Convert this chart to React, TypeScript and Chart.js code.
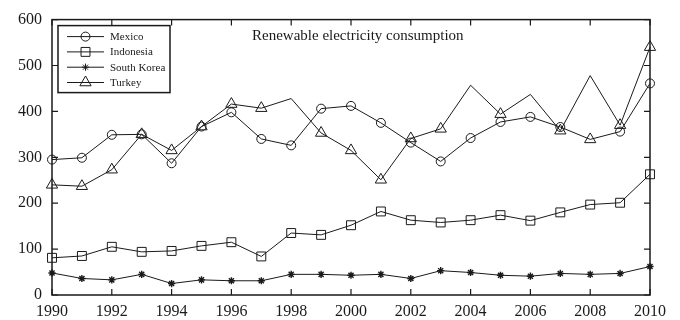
import React, { useEffect, useRef } from "react";
import { Chart, registerables } from "chart.js";

Chart.register(...registerables);

const years = [1990, 1991, 1992, 1993, 1994, 1995, 1996, 1997, 1998, 1999, 2000, 2001, 2002, 2003, 2004, 2005, 2006, 2007, 2008, 2009, 2010];
const mexico = [295, 299, 349, 350, 287, 367, 398, 340, 326, 406, 412, 375, 332, 291, 342, 377, 388, 366, 339, 356, 461];
const indonesia = [81, 85, 105, 94, 96, 107, 115, 84, 135, 131, 152, 182, 163, 158, 163, 174, 162, 180, 197, 201, 263];
const southKorea = [48, 36, 33, 45, 25, 33, 31, 31, 45, 45, 43, 45, 36, 53, 49, 43, 41, 47, 45, 47, 62];
const turkey = [240, 237, 273, 350, 315, 367, 416, 407, 428, 353, 315, 251, 341, 362, 457, 394, 437, 358, 478, 370, 540];
const seriesNames = ["Mexico", "Indonesia", "South Korea", "Turkey"];
const chartTitle = "Renewable electricity consumption";
const yMin = 0;
const yMax = 600;
const yStep = 100;
const xStep = 2;

// years where Turkey is plotted without a marker, and where Mexico's marker is a triangle
const turkeyNoMarkerYears = [1998, 2004, 2006, 2008];
const mexicoTriangleYears = [2008];

const FONT = "'Liberation Serif', 'Times New Roman', serif";
const INK = "#1a1a1a";

type Mk = { style: string; r: number };
const markers: Mk[] = [
  { style: "circle", r: 4.5 },
  { style: "rect", r: 6.3 },
  { style: "star", r: 3.6 },
  { style: "triangle", r: 6.5 },
];

function drawMarker(ctx: CanvasRenderingContext2D, style: string, x: number, y: number, r: number) {
  ctx.beginPath();
  if (style === "circle") {
    ctx.arc(x, y, r, 0, Math.PI * 2);
  } else if (style === "rect") {
    const s = Math.SQRT1_2 * r;
    ctx.rect(x - s, y - s, 2 * s, 2 * s);
  } else if (style === "triangle") {
    for (let k = 0; k < 3; k++) {
      const a = (k * 2 * Math.PI) / 3;
      const px = x + Math.sin(a) * r;
      const py = y - Math.cos(a) * r;
      if (k === 0) ctx.moveTo(px, py);
      else ctx.lineTo(px, py);
    }
    ctx.closePath();
  } else if (style === "star") {
    for (let k = 0; k < 4; k++) {
      const a = (k * Math.PI) / 4;
      ctx.moveTo(x - Math.cos(a) * r, y - Math.sin(a) * r);
      ctx.lineTo(x + Math.cos(a) * r, y + Math.sin(a) * r);
    }
  }
  ctx.stroke();
}

const overlayPlugin = {
  id: "overlay",
  afterDraw(chart: any) {
    const ctx: CanvasRenderingContext2D = chart.ctx;
    const { left, right, top, bottom } = chart.chartArea;
    const xs = chart.scales.x;
    const ys = chart.scales.y;
    ctx.save();
    ctx.strokeStyle = INK;
    ctx.lineWidth = 1.5;
    ctx.strokeRect(left, top, right - left, bottom - top);
    ctx.lineWidth = 1.2;
    const tl = 6;
    ctx.beginPath();
    xs.ticks.forEach((t: any) => {
      const px = xs.getPixelForValue(t.value);
      ctx.moveTo(px, bottom);
      ctx.lineTo(px, bottom - tl);
      ctx.moveTo(px, top);
      ctx.lineTo(px, top + tl);
    });
    ys.ticks.forEach((t: any) => {
      const py = ys.getPixelForValue(t.value);
      ctx.moveTo(left, py);
      ctx.lineTo(left + tl, py);
      ctx.moveTo(right, py);
      ctx.lineTo(right - tl, py);
    });
    ctx.stroke();

    // title inside plot
    ctx.fillStyle = INK;
    ctx.font = `15px ${FONT}`;
    ctx.textAlign = "left";
    ctx.textBaseline = "middle";
    ctx.fillText(chartTitle, left + 200, top + 16);

    // legend box
    const bx = left + 6;
    const by = top + 6;
    ctx.lineWidth = 1.5;
    ctx.strokeRect(bx, by, 112, 67);
    ctx.font = `11px ${FONT}`;
    ctx.lineWidth = 1;
    seriesNames.forEach((name, i) => {
      const yy = by + 11 + i * 15.3;
      ctx.beginPath();
      ctx.moveTo(bx + 9, yy);
      ctx.lineTo(bx + 46, yy);
      ctx.stroke();
      drawMarker(ctx, markers[i].style, bx + 27.5, yy, markers[i].r);
      ctx.fillText(name, bx + 52, yy + 0.5);
    });
    ctx.restore();
  },
};

export default function App() {
  const ref = useRef<HTMLCanvasElement | null>(null);
  useEffect(() => {
    if (!ref.current) return;
    const toPts = (arr: number[]) => years.map((yr, i) => ({ x: yr, y: arr[i] }));
    const values = [mexico, indonesia, southKorea, turkey];
    const datasets = values.map((arr, i) => {
      let pointStyle: any = markers[i].style;
      let radius: any = markers[i].r;
      if (i === 0) {
        pointStyle = years.map((yr) => (mexicoTriangleYears.includes(yr) ? "triangle" : "circle"));
        radius = years.map((yr) => (mexicoTriangleYears.includes(yr) ? markers[3].r : markers[0].r));
      }
      if (i === 3) {
        radius = years.map((yr) => (turkeyNoMarkerYears.includes(yr) ? 0 : markers[3].r));
      }
      return {
        label: seriesNames[i],
        data: toPts(arr),
        borderColor: INK,
        borderWidth: 1,
        backgroundColor: "rgba(0,0,0,0)",
        pointStyle,
        pointRadius: radius,
        pointBorderColor: INK,
        pointBorderWidth: i === 2 ? 1.4 : 1,
        pointBackgroundColor: "rgba(0,0,0,0)",
        tension: 0,
        fill: false,
        clip: false as any,
      };
    });
    const chart = new Chart(ref.current, {
      type: "line",
      data: { datasets },
      options: {
        animation: false,
        responsive: true,
        maintainAspectRatio: false,
        layout: { padding: { top: 16, right: 30, left: 0, bottom: 0 } },
        plugins: { legend: { display: false }, tooltip: { enabled: false }, title: { display: false } },
        scales: {
          x: {
            type: "linear",
            min: years[0],
            max: years[years.length - 1],
            grid: { display: false, drawTicks: false },
            border: { display: false },
            ticks: {
              stepSize: xStep,
              padding: 7,
              color: INK,
              font: { family: FONT, size: 16 },
              maxRotation: 0,
              callback: (v: any) => String(v),
            },
            afterFit: (s: any) => {
              s.height = 25;
            },
          },
          y: {
            min: yMin,
            max: yMax,
            grid: { display: false, drawTicks: false },
            border: { display: false },
            ticks: {
              stepSize: yStep,
              padding: 10,
              color: INK,
              font: { family: FONT, size: 16 },
              callback: (v: any) => String(v),
            },
            afterFit: (s: any) => {
              s.width = 52;
            },
          },
        },
      },
      plugins: [overlayPlugin],
    });
    return () => chart.destroy();
  }, []);
  return (
    <div style={{ position: "absolute", left: 0, top: 0, width: 680, height: 320, background: "#fff" }}>
      <canvas ref={ref} />
    </div>
  );
}
